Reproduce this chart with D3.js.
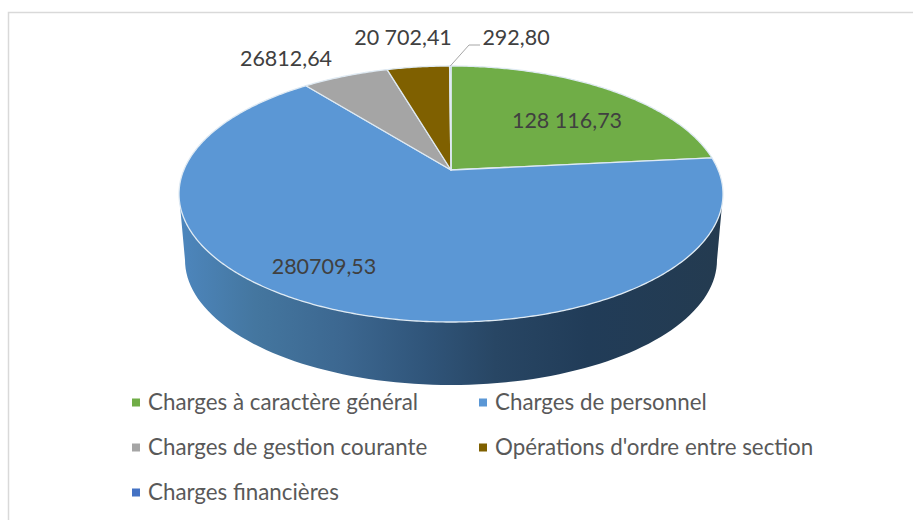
<!DOCTYPE html>
<html>
<head>
<meta charset="utf-8">
<script src="https://cdn.jsdelivr.net/npm/d3@7"></script>
<style>
  html, body { margin: 0; padding: 0; background: #fff; }
  svg { display: block; }
  text { font-family: Lato, "Open Sans", sans-serif; }
</style>
</head>
<body>
<svg id="chart"></svg>
<script>
/* Perspective 3D pie, drawn from d3.pie angles projected onto a tilted disc. */
var categories = [
  "Charges à caractère général",
  "Charges de personnel",
  "Charges de gestion courante",
  "Opérations d'ordre entre section",
  "Charges financières"
];
// printed labels, as they appear on the picture (not proportional to the slices)
var valueLabels = ["128 116,73", "280709,53", "26812,64", "20 702,41", "292,80"];
// share of the disc each slice really covers in the picture, in percent
var sliceShares = [23.4, 65.9, 6.15, 4.45, 0.1];
var colors = ["#70ad47", "#5b97d5", "#a5a5a5", "#7f6000", "#4472c4"];

var w = 913, h = 520;
var svg = d3.select("#chart").attr("width", w).attr("height", h);

// frame of the chart area, only left and top edges are in the crop
svg.append("path")
  .attr("d", "M8.5,520V12.5H913")
  .attr("fill", "none")
  .attr("stroke", "#d9d9d9")
  .attr("stroke-width", 1.5);

// disc geometry
var cx = 451, cy = 194, rx = 272, ry = 128;
var apexY = 170;
var k = (apexY - cy) / ry;
var s = Math.sqrt(1 - k * k);

// clockwise angle from top on the flat disc -> screen position
function project(a, r) {
  var X = Math.sin(a) * r, Y = -Math.cos(a) * r;
  var d = 1 + k * Y;
  return [cx + rx * s * X / d, cy + ry * (Y + k) / d];
}

var pie = d3.pie().sort(null).value(function (d) { return d; });
var arcs = pie(sliceShares);
var line = d3.line();

// side wall
var defs = svg.append("defs");
var grad = defs.append("linearGradient")
  .attr("id", "wall")
  .attr("gradientUnits", "userSpaceOnUse")
  .attr("x1", 180).attr("x2", 724).attr("y1", 0).attr("y2", 0);
[[0, "#4d86bd"], [0.14, "#44769f"], [0.3, "#3c6790"], [0.45, "#30557a"],
 [0.58, "#284664"], [0.75, "#213c58"], [1, "#243b50"]].forEach(function (d) {
  grad.append("stop").attr("offset", d[0]).attr("stop-color", d[1]);
});

var lowCy = 260, lowRx = 266, lowRy = 125;
var steps = d3.range(0, 181, 2);
var upperEdge = steps.map(function (t) {
  var a = t * Math.PI / 180;
  return [cx + rx * Math.cos(a), cy + ry * Math.sin(a)];
});
var lowerEdge = steps.slice().reverse().map(function (t) {
  var a = t * Math.PI / 180;
  return [cx + lowRx * Math.cos(a), lowCy + lowRy * Math.sin(a)];
});
svg.append("path")
  .attr("d", line(upperEdge.concat(lowerEdge)) + "Z")
  .attr("fill", "url(#wall)");

// top slices
svg.append("g").selectAll("path")
  .data(arcs)
  .join("path")
  .attr("d", function (d) {
    var n = Math.max(2, Math.ceil((d.endAngle - d.startAngle) / 0.01));
    var pts = d3.range(n + 1).map(function (i) {
      return project(d.startAngle + (d.endAngle - d.startAngle) * i / n, 1);
    });
    return line([project(0, 0)].concat(pts)) + "Z";
  })
  .attr("fill", function (d, i) { return colors[i]; })
  .attr("stroke", "#dfeaf3")
  .attr("stroke-width", 1.3)
  .attr("stroke-linejoin", "round");

// leader for the tiny slice
var tiny = arcs[4];
var tip = project((tiny.startAngle + tiny.endAngle) / 2, 1);
svg.append("path")
  .attr("d", line([tip, [469, 45], [480, 45]]))
  .attr("fill", "none")
  .attr("stroke", "#a6a6a6")
  .attr("stroke-width", 1);

// data labels, same order as the categories
var labelPos = [[567, 120], [324, 266], [286, 58], [403, 37], [516, 37]];
svg.append("g").selectAll("text")
  .data(valueLabels)
  .join("text")
  .attr("x", function (d, i) { return labelPos[i][0]; })
  .attr("y", function (d, i) { return labelPos[i][1]; })
  .attr("dy", "0.35em")
  .attr("text-anchor", "middle")
  .attr("fill", "#404040")
  .style("font-size", "21.5px")
  .text(function (d) { return d; });

// legend
var legendPos = [[132, 402], [479, 402], [132, 447], [479, 447], [132, 492]];
var leg = svg.append("g").selectAll("g")
  .data(categories)
  .join("g")
  .attr("transform", function (d, i) {
    return "translate(" + legendPos[i][0] + "," + legendPos[i][1] + ")";
  });
leg.append("rect")
  .attr("y", -3.5).attr("width", 8).attr("height", 8)
  .attr("fill", function (d, i) { return colors[i]; });
leg.append("text")
  .attr("x", 16)
  .attr("dy", "0.35em")
  .attr("fill", "#595959")
  .style("font-size", "22.35px")
  .text(function (d) { return d; });
</script>
</body>
</html>
